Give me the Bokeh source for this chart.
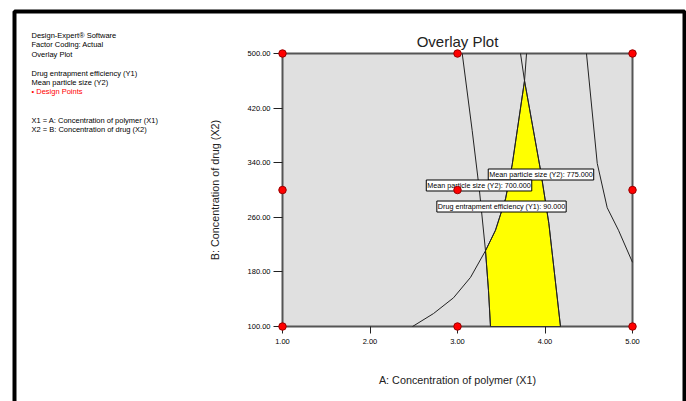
import math
from bokeh.plotting import figure
from bokeh.models import (Label, BoxAnnotation, FixedTicker, NumeralTickFormatter, Range1d)
from bokeh.embed import file_html
from bokeh.resources import INLINE

# ---------------- data ----------------
x_ticks = [1, 2, 3, 4, 5]
y_ticks = [100, 180, 260, 340, 420, 500]

design_x = [1, 3, 5, 1, 3, 5, 1, 3, 5]
design_y = [100, 100, 100, 300, 300, 300, 500, 500, 500]

# Mean particle size (Y2) = 700 contour
y2_700_x = [3.054, 3.168, 3.251, 3.320, 3.354, 3.377]
y2_700_y = [500, 387, 299, 211, 153, 100]

# Drug entrapment efficiency (Y1) = 90 contour
y1_90_x = [2.486, 2.726, 2.954, 3.149, 3.320, 3.434, 3.549, 3.625, 3.766, 3.789]
y1_90_y = [100, 119, 142, 172, 211, 241, 287, 337, 460, 500]

# Mean particle size (Y2) = 775 contour
y2_775_x = [3.720, 3.766, 3.949, 4.044, 4.177]
y2_775_y = [500, 460, 329, 251, 100]

# another (unlabelled) contour on the right
right_x = [4.474, 4.597, 4.711, 4.840, 5.000]
right_y = [500, 339, 274, 241, 194]

x_min, x_max = 1, 5
y_min, y_max = 100, 500

label_775 = ("Mean particle size (Y2): 775.000", 3.954, 322.7)
label_700 = ("Mean particle size (Y2): 700.000", 3.246, 306.6)
label_y1 = ("Drug entrapment efficiency (Y1): 90.000", 3.503, 275.8)

title_text = "Overlay Plot"
x_label = "A: Concentration of polymer (X1)"
y_label = "B: Concentration of drug (X2)"

info_lines = [
    ("Design-Expert\u00ae Software", "black"),
    ("Factor Coding: Actual", "black"),
    ("Overlay Plot", "black"),
    ("", None),
    ("Drug entrapment efficiency (Y1)", "black"),
    ("Mean particle size (Y2)", "black"),
    ("\u2022  Design Points", "red"),
    ("", None),
    ("", None),
    ("X1 = A: Concentration of polymer (X1)", "black"),
    ("X2 = B: Concentration of drug (X2)", "black"),
]

# ---------------- overlay region (Y1 >= 90 and 700 <= Y2 <= 775) -------------
p700 = list(zip(y2_700_x, y2_700_y))
p90 = list(zip(y1_90_x, y1_90_y))
p775 = list(zip(y2_775_x, y2_775_y))
int_a = [pt for pt in p700 if pt in p90][0]     # 700 x 90 crossing
int_b = [pt for pt in p90 if pt in p775][0]     # 90 x 775 crossing (apex)
region = [pt for pt in reversed(p700) if pt[1] <= int_a[1]]
region += [pt for pt in p90 if int_a[1] < pt[1] <= int_b[1]]
region += [pt for pt in p775 if pt[1] < int_b[1]]
reg_x = [pt[0] for pt in region]
reg_y = [pt[1] for pt in region]

# ---------------- figure ----------------
W, H = 686, 401
fl, fr, ft, fb = 282, 632, 53, 326  # data rectangle in canvas px
xpp = (x_max - x_min) / (fr - fl)
ypp = (y_max - y_min) / (fb - ft)


def dx(px):
    return x_min + (px - fl) * xpp


def dy(py):
    return y_min + (fb - py) * ypp


p = figure(width=W, height=H, output_backend="svg", toolbar_location=None,
           x_range=Range1d(dx(0), dx(W)), y_range=Range1d(dy(H), dy(0)),
           min_border_left=0, min_border_right=0,
           min_border_top=0, min_border_bottom=0,
           title=None)
p.outline_line_color = None
p.background_fill_color = "white"
p.border_fill_color = "white"
p.xgrid.visible = False
p.ygrid.visible = False

for ax in (p.xaxis[0], p.yaxis[0]):
    ax.axis_line_color = None
    ax.major_tick_line_color = "#222222"
    ax.major_tick_line_width = 1
    ax.major_tick_in = 0
    ax.minor_tick_line_color = None
    ax.major_label_text_font = "Liberation Sans"
    ax.major_label_text_font_size = "7.5px"
    ax.major_label_text_color = "black"
    ax.formatter = NumeralTickFormatter(format="0.00")

p.xaxis[0].fixed_location = y_min
p.yaxis[0].fixed_location = x_min
p.xaxis[0].ticker = FixedTicker(ticks=x_ticks)
p.yaxis[0].ticker = FixedTicker(ticks=y_ticks)
p.xaxis[0].major_tick_out = 7
p.xaxis[0].major_label_standoff = 5
p.yaxis[0].major_tick_out = 9
p.yaxis[0].major_label_standoff = 3
p.yaxis[0].major_label_orientation = "horizontal"

# plot area
p.quad(left=[x_min], right=[x_max], bottom=[y_min], top=[y_max],
       fill_color="#E0E0E0", line_color="#555555", line_width=2)

# overlay region
p.patch(reg_x, reg_y, fill_color="#FFFF00", line_color="#333333", line_width=1)

# contours
for cx, cy in ((y2_700_x, y2_700_y), (y1_90_x, y1_90_y),
               (y2_775_x, y2_775_y), (right_x, right_y)):
    p.line(cx, cy, line_color="#222222", line_width=1)

# contour labels
for txt, lx, ly in (label_775, label_700, label_y1):
    p.add_layout(Label(x=lx, y=ly, text=txt, text_align="center",
                       text_baseline="middle", text_font="Liberation Sans",
                       text_font_size="7.2px", text_color="black",
                       background_fill_color="white",
                       border_line_color="black", border_line_width=1,
                       padding=1))

# design points (drawn above the labels)
p.scatter(design_x, design_y, size=7.5, fill_color="#FF0000",
          line_color="#990000", line_width=1, level="overlay")

# title and axis titles
p.add_layout(Label(x=(x_min + x_max) / 2, y=dy(41), text=title_text,
                   text_align="center", text_baseline="middle",
                   text_font="Liberation Sans", text_font_size="15px",
                   text_color="#222222"))
p.add_layout(Label(x=(x_min + x_max) / 2, y=dy(379), text=x_label,
                   text_align="center", text_baseline="middle",
                   text_font="Liberation Sans", text_font_size="10.8px",
                   text_color="#222222"))
p.add_layout(Label(x=dx(214), y=(y_min + y_max) / 2, text=y_label,
                   text_align="center", text_baseline="middle", angle=math.pi / 2,
                   text_font="Liberation Sans", text_font_size="10.8px",
                   text_color="#222222"))

# ---------------- info block (top-left) ----------------
y0, step = 35, 9.4
for i, (txt, col) in enumerate(info_lines):
    if not txt:
        continue
    p.add_layout(Label(x=dx(31), y=dy(y0 + i * step),
                       text=txt, text_align="left", text_baseline="middle",
                       text_font="Liberation Sans", text_font_size="7.5px",
                       text_color=col))

# outer black frame
p.add_layout(BoxAnnotation(left=dx(14), right=dx(684), top=dy(11), bottom=dy(440),
                           fill_alpha=0, line_color="black", line_alpha=1.0,
                           line_width=4, level="overlay"))

open("out.html", "w").write(file_html(p, INLINE))
